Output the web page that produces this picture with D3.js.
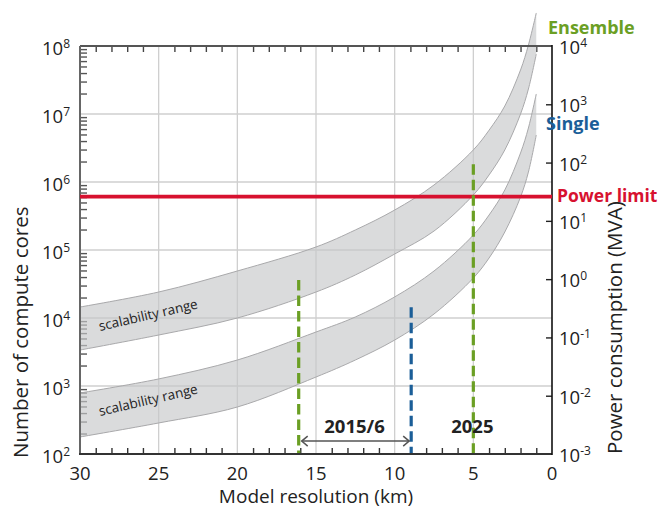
<!DOCTYPE html>
<html>
<head>
<meta charset="utf-8">
<script src="https://cdn.jsdelivr.net/npm/d3@7/dist/d3.min.js"></script>
<style>
  html, body { margin: 0; padding: 0; background: #fff; }
  svg { display: block; font-family: "Open Sans", "Noto Sans", sans-serif; }
</style>
</head>
<body>
<svg id="chart" width="661" height="508"></svg>
<script>
// ---------- data ----------
const resolutionKm  = [30, 25, 20, 15, 12.5, 10, 7.5, 5, 4, 3, 2, 1.5, 1];
const ensembleUpper = [14500, 24100, 49100, 110700, 1.97e5, 3.87e5, 9.04e5, 2.96e6, 5.78e6, 1.31e7, 4.44e7, 1.03e8, 3.06e8];
const ensembleLower = [3380, 5620, 10000, 24100, 42900, 87300, 1.9e5, 6.44e5, 1.27e6, 2.96e6, 1.0e7, 2.33e7, 7.6e7];
const singleUpper   = [789, 1270, 2410, 6220, 10350, 20400, 49100, 1.66e5, 3.27e5, 7.62e5, 2.67e6, 6.22e6, 1.97e7];
const singleLower   = [178, 286, 491, 1355, 2410, 4740, 11450, 38700, 76200, 1.84e5, 6.01e5, 1.40e6, 4.91e6];

const coreTicks = [1e2, 1e3, 1e4, 1e5, 1e6, 1e7, 1e8];
const coreExp   = ["2", "3", "4", "5", "6", "7", "8"];
const powerTicks = [1e-3, 1e-2, 1e-1, 1e0, 1e1, 1e2, 1e3, 1e4];
const powerExp   = ["-3", "-2", "-1", "0", "1", "2", "3", "4"];
const xTickLabels = [30, 25, 20, 15, 10, 5, 0];

const powerLimitMVA = 26;
const milestoneKm  = [16.1, 8.95, 5];        // green (2015/6 ensemble), blue (single), green (2025)
const milestoneTop = [36200, 14400, 1.82e6]; // top of dashed lines (cores)
const periodLabels = ["2015/6", "2025"];
const seriesLabels = ["Ensemble", "Single", "Power limit"];

// ---------- layout ----------
const svg = d3.select("#chart");
const L = 80, R = 552, T = 46, B = 454;
const GREEN = "#6b9f24", BLUE = "#1b5e98", RED = "#d7112f";

const x = d3.scaleLinear().domain([30, 0]).range([L, R]);
const y = d3.scaleLog().domain([1e2, 1e8]).range([B, T]);
const yR = d3.scaleLog().domain([1e-3, 1e4]).range([B, T]);

// gridlines
const grid = svg.append("g").attr("stroke", "#cfcfcf").attr("stroke-width", 1.3);
grid.selectAll("line.h").data(coreTicks.slice(1, -1)).join("line")
  .attr("x1", L).attr("x2", R).attr("y1", d => y(d)).attr("y2", d => y(d));
grid.selectAll("line.v").data([25, 20, 15, 10, 5]).join("line")
  .attr("y1", T).attr("y2", B).attr("x1", d => x(d)).attr("x2", d => x(d));

// axes with ticks
const minorKm = d3.range(1, 30).filter(d => d % 5 !== 0);
const bottomAxis = d3.axisBottom(x).tickValues(minorKm).tickSize(-6).tickFormat("");
const topAxis = d3.axisTop(x).tickValues(minorKm).tickSize(-6).tickFormat("");
const minorCores = [];
coreTicks.slice(0, -1).forEach(d => { for (let k = 2; k <= 9; k++) minorCores.push(d * k); });
const leftAxis = d3.axisLeft(y).tickValues(minorCores).tickSize(-7).tickFormat("");
const rightAxis = d3.axisRight(yR).tickValues(powerTicks.slice(1, -1)).tickSize(-6).tickFormat("");

function styleAxis(g, color) {
  g.select(".domain").remove();
  g.selectAll(".tick line").attr("stroke", color).attr("stroke-width", 1.4);
}
svg.append("g").attr("transform", `translate(0,${B})`).call(bottomAxis).call(g => styleAxis(g, "#333"));
svg.append("g").attr("transform", `translate(0,${T})`).call(topAxis).call(g => styleAxis(g, "#444"));
svg.append("g").attr("transform", `translate(${L},0)`).call(leftAxis).call(g => styleAxis(g, "#555"));
svg.append("g").attr("transform", `translate(${R},0)`).call(rightAxis).call(g => styleAxis(g, "#222"));

// bands
function band(upper, lower) {
  const pts = resolutionKm.map((k, i) => ({ k, u: upper[i], l: lower[i] }));
  const curve = d3.curveCatmullRom.alpha(0.5);
  const area = d3.area().x(d => x(d.k)).y0(d => y(d.l)).y1(d => y(d.u)).curve(curve);
  svg.append("path").datum(pts).attr("d", area)
    .attr("fill", "#c6c7ca").attr("fill-opacity", 0.65);
  const lu = d3.line().x(d => x(d.k)).y(d => y(d.u)).curve(curve);
  const ll = d3.line().x(d => x(d.k)).y(d => y(d.l)).curve(curve);
  [lu, ll].forEach(f => svg.append("path").datum(pts).attr("d", f)
    .attr("fill", "none").attr("stroke", "#a9a9ab").attr("stroke-width", 1));
}
band(ensembleUpper, ensembleLower);
band(singleUpper, singleLower);

// axis lines
svg.append("line").attr("x1", L).attr("x2", R).attr("y1", T).attr("y2", T).attr("stroke", "#555").attr("stroke-width", 2);
svg.append("line").attr("x1", L).attr("x2", L).attr("y1", T).attr("y2", B + 1).attr("stroke", "#666").attr("stroke-width", 2);
svg.append("line").attr("x1", L - 1).attr("x2", R).attr("y1", B).attr("y2", B).attr("stroke", "#333").attr("stroke-width", 2);
svg.append("line").attr("x1", R).attr("x2", R).attr("y1", T - 1).attr("y2", B + 1).attr("stroke", "#111").attr("stroke-width", 1.6);

// power limit
svg.append("line").attr("x1", L).attr("x2", R)
  .attr("y1", yR(powerLimitMVA)).attr("y2", yR(powerLimitMVA))
  .attr("stroke", RED).attr("stroke-width", 3.6);

// milestone dashed lines
const mColors = [GREEN, BLUE, GREEN];
milestoneKm.forEach((k, i) => {
  svg.append("line").attr("x1", x(k)).attr("x2", x(k))
    .attr("y1", y(milestoneTop[i])).attr("y2", B - 1)
    .attr("stroke", mColors[i]).attr("stroke-width", 3.2)
    .attr("stroke-dasharray", "10.5,5");
});

// arrow
const ay = y(155);
const ax1 = x(milestoneKm[0]) + 3, ax2 = x(milestoneKm[1]) - 2;
svg.append("line").attr("x1", ax1).attr("x2", ax2).attr("y1", ay).attr("y2", ay)
  .attr("stroke", "#555").attr("stroke-width", 1.5);
svg.append("path").attr("d", `M${ax1 + 6},${ay - 5}L${ax1},${ay}L${ax1 + 6},${ay + 5}`)
  .attr("fill", "none").attr("stroke", "#555").attr("stroke-width", 1.5);
svg.append("path").attr("d", `M${ax2 - 6},${ay - 5}L${ax2},${ay}L${ax2 - 6},${ay + 5}`)
  .attr("fill", "none").attr("stroke", "#555").attr("stroke-width", 1.5);

svg.append("text").attr("x", x(12.55)).attr("y", y(204)).attr("text-anchor", "middle")
  .attr("font-size", 18.5).attr("font-weight", "bold").attr("fill", "#222").text(periodLabels[0]);
svg.append("text").attr("x", x(5) - 1).attr("y", y(204)).attr("text-anchor", "middle")
  .attr("font-size", 18.5).attr("font-weight", "bold").attr("fill", "#222").text(periodLabels[1]);

// scalability labels
[[100, 331], [100, 416]].forEach(([px, py]) => {
  svg.append("text").attr("transform", `translate(${px},${py}) rotate(-13)`)
    .attr("font-size", 13.5).attr("fill", "#222").text("scalability range");
});

// tick labels
function sup(g, base, exp) {
  g.append("tspan").text(base);
  g.append("tspan").attr("font-size", 12).attr("dy", -7).text(exp);
}
coreTicks.forEach((d, i) => {
  const t = svg.append("text").attr("x", 70).attr("y", y(d) + 9).attr("text-anchor", "end")
    .attr("font-size", 18.5).attr("fill", "#222");
  sup(t, "10", coreExp[i]);
});
powerTicks.forEach((d, i) => {
  const t = svg.append("text").attr("x", 559).attr("y", yR(d) + 8)
    .attr("font-size", 18.5).attr("fill", "#222");
  sup(t, "10", powerExp[i]);
});
xTickLabels.forEach(d => {
  svg.append("text").attr("x", x(d)).attr("y", 480).attr("text-anchor", "middle")
    .attr("font-size", 18.5).attr("fill", "#222").text(d);
});

// axis titles
svg.append("text").attr("x", x(15)).attr("y", 503).attr("text-anchor", "middle")
  .attr("font-size", 19).attr("fill", "#222").text("Model resolution (km)");
svg.append("text").attr("transform", `translate(28,458) rotate(-90)`)
  .attr("font-size", 20.5).attr("fill", "#222").text("Number of compute cores");
svg.append("text").attr("transform", `translate(622,454) rotate(-90)`)
  .attr("font-size", 20.5).attr("fill", "#222").text("Power consumption (MVA)");

// series labels
svg.append("text").attr("x", 548).attr("y", 34).attr("font-size", 18).attr("font-weight", "bold")
  .attr("fill", GREEN).text(seriesLabels[0]);
svg.append("text").attr("x", 546).attr("y", 130).attr("font-size", 18).attr("font-weight", "bold")
  .attr("fill", BLUE).text(seriesLabels[1]);
svg.append("text").attr("x", 557).attr("y", 202).attr("font-size", 17.5).attr("font-weight", "bold")
  .attr("fill", RED).text(seriesLabels[2]);
</script>
</body>
</html>
